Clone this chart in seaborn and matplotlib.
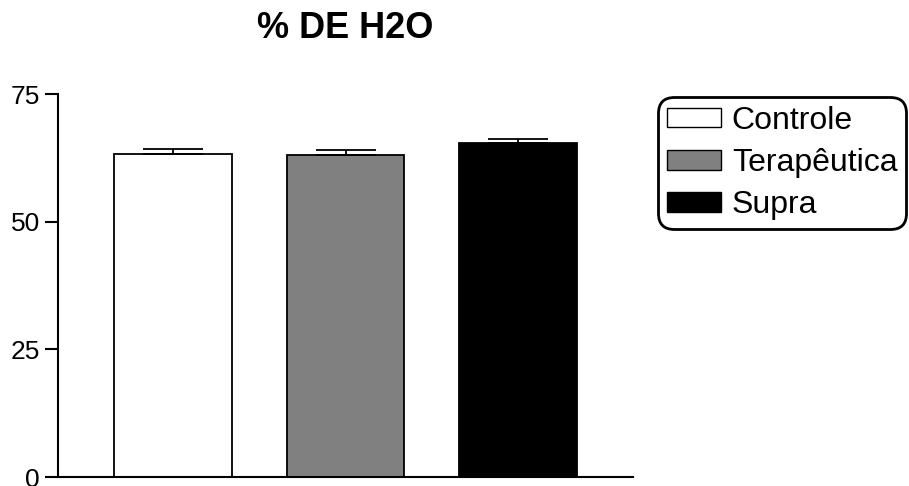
import matplotlib
matplotlib.use("Agg")
import matplotlib.pyplot as plt
from matplotlib.patches import Patch
import seaborn as sns
import pandas as pd

# Group means and standard errors (% water content)
grupos = ["Controle", "Terapêutica", "Supra"]
media = [63.2, 63.1, 65.5]
epm = [1.0, 1.0, 0.7]
cores = ["#ffffff", "#808080", "#000000"]
titulo = "% DE H2O"
yticks = [0, 25, 50, 75]

sns.set_theme(style="ticks")
plt.rcParams["font.family"] = ["Liberation Sans", "DejaVu Sans"]
plt.rcParams["text.color"] = "black"
plt.rcParams["axes.labelcolor"] = "black"

df = pd.DataFrame({"grupo": grupos, "media": media})

fig = plt.figure(figsize=(9.09, 4.86), dpi=100)
W, H = 909, 486
ax = fig.add_axes([58 / W, 1 - 477 / H, (633 - 58) / W, (477 - 94) / H])

sns.barplot(data=df, x="grupo", y="media", hue="grupo", palette=cores,
            order=grupos, hue_order=grupos, dodge=False, legend=False,
            edgecolor="black", linewidth=1.3, width=0.68, saturation=1, ax=ax)

# upper half of the SEM error bars
ax.errorbar(range(len(grupos)), media, yerr=[[0] * len(grupos), epm],
            fmt="none", ecolor="black", elinewidth=1.3, capsize=21.5,
            capthick=1.3, zorder=5)

ax.set_xlim(-0.665, 2.665)
ax.set_ylim(0, 75)
ax.set_yticks(yticks)
ax.set_yticklabels([str(v) for v in yticks])
ax.set_xticks([])
ax.set_xlabel("")
ax.set_ylabel("")
for s in ["top", "right"]:
    ax.spines[s].set_visible(False)
for s in ["left", "bottom"]:
    ax.spines[s].set_linewidth(1.5)
    ax.spines[s].set_color("black")
ax.tick_params(axis="y", length=9.4, width=1.5, pad=3.6, labelsize=19,
               colors="black", labelcolor="black")

ax.set_title(titulo, fontsize=26, fontweight="bold", pad=40, color="black")

handles = [Patch(facecolor=c, edgecolor="black", linewidth=1.0) for c in cores]
leg = fig.legend(handles, grupos, loc="upper left",
                 bbox_to_anchor=(658 / W, 1 - 97 / H), fontsize=23,
                 frameon=True, fancybox=True, handlelength=1.7,
                 handleheight=0.57, handletextpad=0.33, labelspacing=0.38,
                 borderpad=0.28, borderaxespad=0)
for t in leg.get_texts():
    t.set_color("black")
frame = leg.get_frame()
frame.set_edgecolor("black")
frame.set_linewidth(2)
frame.set_alpha(1)
frame.set_boxstyle("round", pad=0, rounding_size=0.5)

fig.savefig("out.png", dpi=100)
